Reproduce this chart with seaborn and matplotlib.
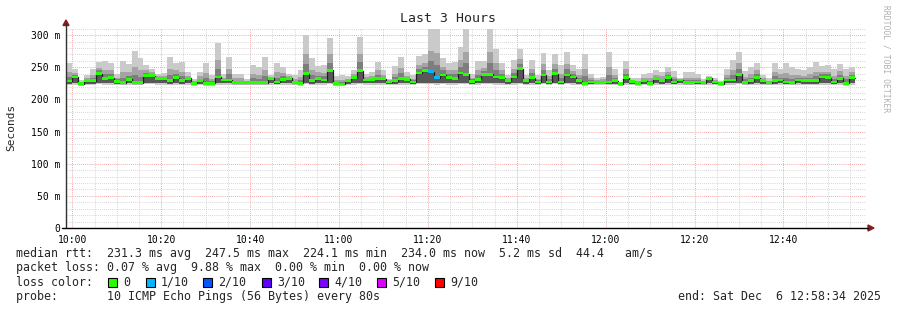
import numpy as np
import pandas as pd
import matplotlib
matplotlib.use("Agg")
import matplotlib.pyplot as plt
import seaborn as sns
from matplotlib.patches import Rectangle, Polygon
from matplotlib.lines import Line2D
from matplotlib.ticker import MultipleLocator, FuncFormatter

# ---------------- data (ms, one value per 80 s step, first step 09:58:40) ----------------
rtt_max = [256, 248, 230, 238, 247, 258.5, 259.6, 256, 240, 259, 255, 275, 264, 253, 248, 240, 241, 266, 257, 258, 242, 232,
           243, 257, 238, 288, 239, 266, 240, 240, 231, 253, 251, 266, 238, 257, 251, 239, 238, 245, 300, 264, 252, 253, 295,
           236, 238, 236, 245, 297, 240, 243, 258, 245, 232, 252, 266, 243, 238, 267, 270,
           310, 310, 265, 257, 258, 282, 310, 240, 260, 260, 309, 278, 257, 238, 261, 279, 238, 261, 238, 272, 245, 271, 253, 273, 254, 248, 271, 240,
           234, 235, 273, 248, 226, 260, 233, 233, 239, 241, 245, 243, 250, 244, 234, 243, 243, 239, 231, 237, 234, 228, 247,
           261, 273, 244, 250, 257, 238, 233, 256, 248, 256, 250, 247, 245, 251, 258, 252, 253, 247, 255, 248, 251]

rtt_p9 = [242, 241, 227, 233, 238, 249, 246, 245, 234, 243, 243, 250, 245, 245, 242, 237, 236, 247, 245, 243, 237, 228,
          236, 241, 231, 261, 234, 248, 233, 233, 228, 239, 238, 246, 235, 242, 241, 236, 232, 235, 270, 246, 242, 241, 270,
          230, 230, 232, 239, 271, 235, 237, 245, 238, 230, 240, 249, 237, 232, 254, 257,
          276, 272, 251, 245, 245, 261, 274, 234, 245, 249, 274, 256, 245, 233, 248, 263, 233, 247, 232, 255, 236, 255, 240, 255, 244, 238, 248, 233,
          230, 231, 250, 238, 225, 247, 230, 229, 234, 233, 238, 236, 242, 235, 232, 234, 234, 233, 228, 235, 230, 226, 238,
          245, 256, 235, 239, 245, 233, 229, 242, 239, 241, 238, 238, 237, 240, 243, 243, 243, 237, 244, 236, 242]

rtt_p8 = [235, 238, 226, 231, 234, 245, 239, 240, 231, 234, 237, 238, 235, 241, 240, 235, 234, 238, 240, 236, 235, 227,
          232, 233, 228, 248, 232, 239, 229, 229, 227, 233, 232, 236, 234, 234, 236, 234, 229, 230, 255, 238, 237, 236, 257,
          227, 227, 231, 237, 258, 232, 234, 238, 235, 228, 235, 241, 234, 230, 247, 251,
          260, 253, 245, 240, 239, 251, 257, 231, 238, 244, 256, 246, 240, 231, 241, 255, 231, 241, 230, 246, 231, 248, 233, 247, 240, 234, 236, 230,
          228, 229, 238, 234, 225, 240, 229, 227, 231, 229, 235, 232, 238, 231, 231, 230, 230, 230, 227, 234, 229, 225, 234,
          238, 247, 231, 234, 240, 231, 228, 236, 234, 234, 232, 234, 233, 234, 236, 239, 239, 232, 238, 231, 238]

rtt_median = [228.5, 235, 224.3, 229, 229, 240, 232.7, 234, 228, 226, 231, 226, 226, 236.7, 237, 233, 232, 229, 234, 229, 233, 225,
              229, 225, 225, 235, 230, 230, 226, 226, 226, 226, 226, 226, 233, 227, 231, 233, 226, 225, 240, 229, 232, 230, 245,
              224.4, 224.1, 229, 234, 244.5, 230, 231, 232, 232, 227, 229, 233, 231, 227, 241, 244.5,
              243, 233.6, 238, 234, 233, 241, 239, 227.5, 231, 239, 239, 235, 234, 229, 235, 247.5, 229, 234, 227, 238, 227, 240, 227, 238, 235, 229, 225, 227,
              226.5, 226.5, 227, 229, 224.2, 234, 227.5, 225, 229, 225, 232, 229, 234, 227, 230, 226, 226, 227, 226, 233, 227, 224.3, 230,
              230, 239, 226, 229, 234, 229, 226, 229, 230, 227, 226, 230, 229, 229, 229, 235, 234, 227, 233, 225, 234]

rtt_p2 = [224, 225, 223, 224, 224, 226, 225, 225, 224, 224, 225, 224, 224, 226, 226, 225, 225, 224, 225, 224, 225, 223,
          224, 223, 223, 225, 225, 225, 224, 224, 224, 224, 224, 224, 225, 224, 225, 225, 224, 223, 226, 224, 225, 225, 226,
          223, 223, 224, 225, 226, 225, 225, 225, 225, 224, 224, 225, 225, 224, 226, 226,
          226, 225, 226, 225, 225, 226, 226, 224, 225, 226, 226, 225, 225, 224, 225, 226, 224, 225, 224, 226, 224, 226, 224, 226, 225, 224, 223, 224,
          224, 224, 224, 224, 223, 225, 224, 223, 224, 223, 225, 224, 225, 224, 225, 224, 224, 224, 224, 225, 224, 223, 225,
          225, 226, 224, 224, 225, 224, 224, 224, 225, 224, 224, 225, 224, 224, 224, 225, 225, 224, 225, 223, 225]

rtt_min = [222, 223, 221, 222, 222, 224, 223, 223, 222, 222, 223, 222, 222, 224, 224, 223, 223, 222, 223, 222, 223, 221,
           222, 221, 221, 223, 223, 223, 222, 222, 222, 222, 222, 222, 223, 222, 223, 223, 222, 221, 224, 222, 223, 223, 224,
           221, 221, 222, 223, 224, 223, 223, 223, 223, 222, 222, 223, 223, 222, 224, 224,
           224, 223, 224, 223, 223, 224, 224, 222, 223, 224, 224, 223, 223, 222, 223, 224, 222, 223, 222, 224, 222, 224, 222, 224, 223, 222, 221, 222,
           222, 222, 222, 222, 221, 223, 222, 221, 222, 221, 223, 222, 223, 222, 223, 222, 222, 222, 222, 223, 222, 221, 223,
           223, 224, 222, 222, 223, 222, 222, 222, 223, 222, 222, 223, 222, 222, 222, 223, 223, 222, 223, 221, 223]

loss_count = [0] * 61 + [1, 1] + [0] * 70   # pings lost out of 10 per step

loss_labels = ["0", "1/10", "2/10", "3/10", "4/10", "5/10", "9/10"]
loss_colors = ["#26ff00", "#00b8ff", "#0059ff", "#5e00ff", "#7e00ff", "#dd00ff", "#ff0000"]

STEP_MIN = 80 / 60.0          # step length in minutes
FIRST_STEP = -80 / 60.0       # 09:58:40, minutes relative to 10:00
X_START, X_END = -86 / 60.0, 178 + 34 / 60.0   # 09:58:34 .. 12:58:34

stats_line1 = "median rtt:  231.3 ms avg  247.5 ms max  224.1 ms min  234.0 ms now  5.2 ms sd  44.4   am/s"
stats_line2 = "packet loss: 0.07 % avg  9.88 % max  0.00 % min  0.00 % now"
probe_line = "probe:       10 ICMP Echo Pings (56 Bytes) every 80s"
end_text = "end: Sat Dec  6 12:58:34 2025"

# ---------------- figure ----------------
W, H = 897, 310
sns.set_theme(style="white")
plt.rcParams['font.family'] = ['DejaVu Sans Mono', 'DejaVu Sans']

fig = plt.figure(figsize=(W / 100, H / 100), dpi=100)
fig.patch.set_facecolor("white")
ax = fig.add_axes([66 / W, (H - 228) / H, 800 / W, 200 / H])
ax.set_facecolor("white")

n = len(rtt_median)
t_start = FIRST_STEP + STEP_MIN * np.arange(n)
t_edges = FIRST_STEP + STEP_MIN * np.arange(n + 1)

def ext(a):
    a = np.asarray(a, dtype=float)
    return np.append(a, a[-1])

p2 = ext(rtt_p2)
ax.fill_between(t_edges, ext(rtt_min), ext(rtt_max), step="post", color="#cacaca", lw=0, zorder=2)
ax.fill_between(t_edges, p2, ext(rtt_p9), step="post", color="#a4a4a4", lw=0, zorder=2)
ax.fill_between(t_edges, p2, ext(rtt_p8), step="post", color="#7e7e7e", lw=0, zorder=2)
ax.fill_between(t_edges, p2, ext(rtt_median), step="post", color="#585858", lw=0, zorder=2)

# median line (black) then loss-coloured median band on top
df = pd.DataFrame({"t": t_edges, "median": ext(rtt_median)})
sns.lineplot(data=df, x="t", y="median", ax=ax, drawstyle="steps-post",
             color="#202020", linewidth=0.9, estimator=None, sort=False, zorder=3)

med = np.asarray(rtt_median, dtype=float)
half = 2.1
cols = [loss_colors[min(c, len(loss_colors) - 1)] for c in loss_count]
ax.bar(t_start, 2 * half, bottom=med - half, width=STEP_MIN * 1.001, align="edge",
       color=cols, linewidth=0, zorder=4)

ax.set_xlim(X_START, X_END)
ax.set_ylim(0, 311)
ax.set_xlabel("")
ax.set_ylabel("")

ax.xaxis.set_major_locator(MultipleLocator(20))
ax.xaxis.set_minor_locator(MultipleLocator(5))
ax.yaxis.set_major_locator(MultipleLocator(50))
ax.yaxis.set_minor_locator(MultipleLocator(10))
ax.xaxis.set_major_formatter(FuncFormatter(lambda v, p: f"{10 + int(round(v)) // 60:02d}:{int(round(v)) % 60:02d}"))
ax.yaxis.set_major_formatter(FuncFormatter(lambda v, p: "0" if v == 0 else f"{int(v)} m"))

ax.set_axisbelow(True)
ax.grid(which="minor", color="#c8c8c8", linestyle=(0, (1, 1.5)), linewidth=0.6)
ax.grid(which="major", color="#f08c8c", linestyle=(0, (1, 1.5)), linewidth=0.6)
ax.tick_params(axis="both", which="both", length=0, labelsize=7, colors="black")
ax.tick_params(axis="x", pad=5)
ax.tick_params(axis="y", pad=4)
for s in ax.spines.values():
    s.set_visible(False)

# axis lines with arrows
def fx(px): return px / W
def fy(py): return 1 - py / H
fig.add_artist(Line2D([fx(66), fx(66)], [fy(228), fy(24)], color="#303030", lw=1))
fig.add_artist(Line2D([fx(62), fx(868)], [fy(228), fy(228)], color="black", lw=1))
fig.add_artist(Polygon([[fx(63), fy(25.5)], [fx(69), fy(25.5)], [fx(66), fy(20)]],
                       closed=True, color="#8b1a1a", transform=fig.transFigure))
fig.add_artist(Polygon([[fx(868), fy(225)], [fx(868), fy(231)], [fx(874), fy(228)]],
                       closed=True, color="#8b1a1a", transform=fig.transFigure))

# texts
fig.text(fx(448), fy(19), "Last 3 Hours", ha="center", va="center", fontsize=9.5)
fig.text(fx(11), fy(127), "Seconds", rotation=90, ha="center", va="center", fontsize=8)
fig.text(fx(886), fy(59), "RRDTOOL / TOBI OETIKER", rotation=270, ha="center", va="center",
         fontsize=5.8, color="#b0b0b0")

FS = 8.4
fig.text(fx(16), fy(254), stats_line1, ha="left", va="center", fontsize=FS)
fig.text(fx(16), fy(268), stats_line2, ha="left", va="center", fontsize=FS)
fig.text(fx(16), fy(282), "loss color:", ha="left", va="center", fontsize=FS)
box_x = [108, 146, 203, 262, 319, 377, 435]
for bx, lab, col in zip(box_x, loss_labels, loss_colors):
    fig.add_artist(Rectangle((fx(bx), fy(287)), 9 / W, 9 / H, transform=fig.transFigure,
                             facecolor=col, edgecolor="black", linewidth=0.8))
    fig.text(fx(bx + 15), fy(282), lab, ha="left", va="center", fontsize=FS)
fig.text(fx(16), fy(296.5), probe_line, ha="left", va="center", fontsize=FS)
fig.text(fx(881), fy(296.5), end_text, ha="right", va="center", fontsize=FS)

fig.savefig("out.png", dpi=100, facecolor="white")
